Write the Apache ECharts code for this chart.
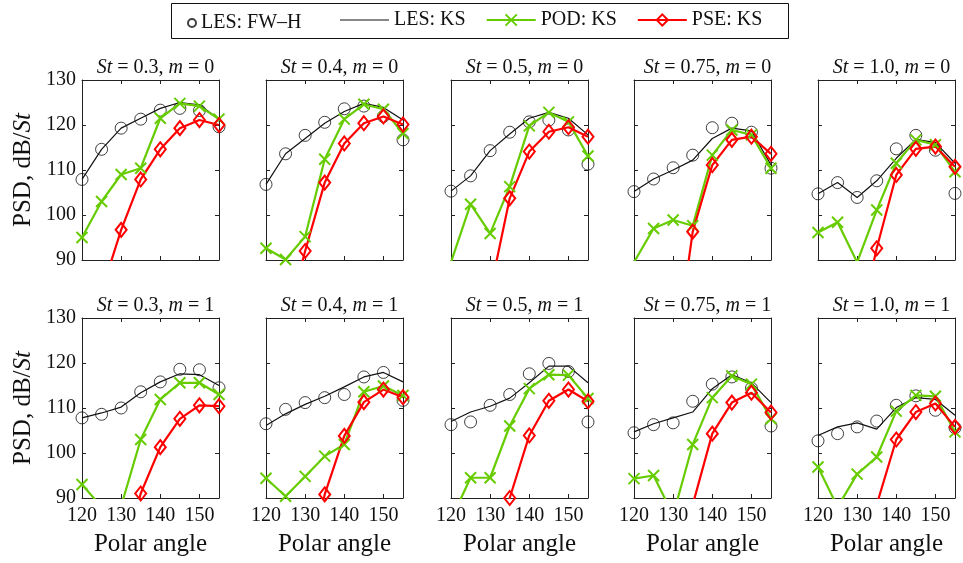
<!DOCTYPE html>
<html>
<head>
<meta charset="utf-8">
<script src="https://cdn.jsdelivr.net/npm/echarts@6/dist/echarts.min.js"></script>
<style>
  html, body { margin: 0; padding: 0; background: #ffffff; }
  #chart { width: 963px; height: 563px; }
</style>
</head>
<body>
<div id="chart"></div>
<script>
// polar angles (x)
const angles = [120, 125, 130, 135, 140, 145, 150, 155];
const stLabels = ['0.3', '0.4', '0.5', '0.75', '1.0'];
const modes = [0, 1];

// m = 0, one array per St
const fwhM0 = [
  [107.9, 114.6, 119.3, 121.3, 123.3, 123.7, 123.2, 119.6],
  [106.8, 113.6, 117.7, 120.6, 123.6, 124.2, 121.9, 116.7],
  [105.3, 108.7, 114.3, 118.4, 120.7, 121.1, 118.9, 111.3],
  [105.2, 108.0, 110.5, 113.3, 119.4, 120.4, 118.4, 110.4],
  [104.7, 107.2, 103.9, 107.6, 114.7, 117.7, 114.4, 104.8]
];
const lesM0 = [
  [107.9, 114.6, 119.3, 121.5, 123.7, 125.0, 124.5, 121.3],
  [106.8, 113.6, 117.0, 120.4, 123.0, 124.8, 123.9, 121.1],
  [105.3, 108.7, 114.3, 118.0, 121.5, 122.8, 121.5, 117.8],
  [105.2, 108.0, 110.0, 112.2, 117.0, 119.3, 118.7, 111.1],
  [104.7, 107.2, 103.9, 107.6, 112.6, 116.8, 116.1, 111.5]
];
const podM0 = [
  [95.0, 103.0, 109.0, 110.4, 121.5, 124.8, 124.2, 121.3],
  [92.6, 90.1, 95.2, 112.4, 121.3, 124.6, 123.5, 118.1],
  [89.5, 102.4, 95.9, 106.3, 119.8, 122.8, 120.7, 113.1],
  [89.5, 97.0, 98.9, 97.6, 113.3, 118.9, 117.8, 110.4],
  [96.1, 98.4, 89.5, 101.1, 111.5, 116.7, 115.6, 109.6]
];
const pseM0 = [
  [null, 83.0, 96.7, 107.9, 114.6, 119.3, 121.1, 120.0],
  [null, 75.0, 92.0, 107.2, 115.9, 120.4, 121.9, 120.1],
  [null, null, 83.0, 103.7, 114.1, 118.5, 119.5, 117.4],
  [null, null, 65.0, 96.3, 111.1, 116.7, 117.4, 113.6],
  [null, null, 73.0, 92.6, 108.9, 114.7, 115.2, 110.7]
];

// m = 1
const fwhM1 = [
  [107.8, 108.6, 110.0, 113.6, 115.8, 118.6, 118.5, 114.5],
  [106.5, 109.7, 111.2, 112.3, 113.0, 116.9, 117.9, 111.7],
  [106.3, 106.9, 110.6, 113.0, 117.6, 119.9, 118.1, 106.9],
  [104.5, 106.3, 106.7, 111.5, 115.3, 116.9, 114.4, 106.0],
  [102.7, 104.3, 105.8, 107.1, 110.6, 112.7, 109.5, 105.6]
];
const lesM1 = [
  [107.8, 108.9, 110.2, 113.4, 115.8, 117.6, 117.4, 115.0],
  [106.1, 108.7, 110.8, 112.6, 114.7, 116.9, 117.9, 115.8],
  [107.0, 109.1, 110.4, 112.2, 115.6, 119.3, 119.3, 115.6],
  [104.7, 106.5, 107.8, 109.1, 114.3, 117.4, 115.6, 111.2],
  [103.9, 105.8, 106.7, 105.3, 110.1, 112.3, 111.9, 108.4]
];
const podM1 = [
  [93.0, 88.0, 88.2, 103.0, 111.9, 115.6, 115.6, 113.0],
  [94.4, 90.4, 94.8, 99.3, 101.9, 113.6, 114.9, 112.8],
  [85.2, 94.5, 94.5, 106.0, 114.3, 117.4, 117.3, 112.1],
  [94.3, 95.0, 86.2, 101.9, 112.3, 117.1, 115.3, 107.6],
  [96.9, 88.0, 95.3, 99.1, 109.3, 112.8, 112.6, 104.7]
];
const pseM1 = [
  [null, null, 75.0, 91.0, 101.3, 107.6, 110.6, 110.4],
  [null, null, 70.0, 90.8, 103.8, 111.3, 114.1, 112.4],
  [null, null, 60.0, 90.0, 103.9, 111.6, 114.1, 111.5],
  [null, null, null, 88.5, 104.3, 111.2, 113.4, 109.0],
  [null, null, null, 88.5, 103.0, 109.1, 111.0, 105.8]
];

const fwh = [fwhM0, fwhM1];
const les = [lesM0, lesM1];
const pod = [podM0, podM1];
const pse = [pseM0, pseM1];

const serif = 'Liberation Serif';
const green = '#66cc00';
const red = '#ff0000';

const colLeft = [82, 266, 451, 634, 818];
const rowTop = [80, 318];
const panelW = 137;
const panelH = 180;

function pairs(ys) {
  return ys.map((y, i) => [angles[i], y]);
}

let chart = echarts.init(document.getElementById('chart'));

let grids = [], xAxes = [], yAxes = [], titles = [], series = [];

modes.forEach((m, r) => {
  stLabels.forEach((st, c) => {
    let g = r * 5 + c;
    grids.push({left: colLeft[c], top: rowTop[r], width: panelW, height: panelH});

    let tick = {show: true, inside: true, length: 4, lineStyle: {color: '#222'}};
    let line = {show: true, onZero: false, lineStyle: {color: '#222', width: 1}};
    // bottom / top x axes
    xAxes.push({
      type: 'value', gridIndex: g, position: 'bottom', min: 120, max: 155, interval: 10,
      axisLine: line, axisTick: tick, splitLine: {show: false},
      axisLabel: {
        show: r === 1, showMaxLabel: false, margin: 8,
        fontFamily: serif, fontSize: 20, color: '#111'
      },
      name: r === 1 ? 'Polar angle' : '', nameLocation: 'middle', nameGap: 34,
      nameTextStyle: {fontFamily: serif, fontSize: 25, color: '#111'}
    });
    xAxes.push({
      type: 'value', gridIndex: g, position: 'top', min: 120, max: 155, interval: 10,
      axisLine: line, axisTick: tick, axisLabel: {show: false}, splitLine: {show: false}
    });
    // left / right y axes
    yAxes.push({
      type: 'value', gridIndex: g, position: 'left', min: 90, max: 130, interval: 10,
      axisLine: line, axisTick: tick, splitLine: {show: false},
      axisLabel: {show: c === 0, margin: 6, fontFamily: serif, fontSize: 20, color: '#111'},
      name: c === 0 ? 'PSD, dB/{i|St}' : '', nameLocation: 'middle', nameGap: 46, nameRotate: 90,
      nameTextStyle: {
        fontFamily: serif, fontSize: 25, color: '#111',
        rich: {i: {fontFamily: serif, fontSize: 25, fontStyle: 'italic', color: '#111'}}
      }
    });
    yAxes.push({
      type: 'value', gridIndex: g, position: 'right', min: 90, max: 130, interval: 10,
      axisLine: line, axisTick: tick, axisLabel: {show: false}, splitLine: {show: false}
    });

    titles.push({
      text: '{i|St} = ' + st + ', {i|m} = ' + m,
      left: colLeft[c] + panelW / 2, textAlign: 'center', top: rowTop[r] - 27,
      textStyle: {
        fontFamily: serif, fontSize: 20, fontWeight: 'normal', color: '#111',
        rich: {
          i: {fontFamily: serif, fontSize: 20, fontStyle: 'italic', color: '#111'},
        }
      }
    });

    let xi = 2 * g, yi = 2 * g;
    series.push({
      name: 'LES: FW\u2013H', type: 'scatter', xAxisIndex: xi, yAxisIndex: yi,
      data: pairs(fwh[r][c]), symbol: 'circle', symbolSize: 12,
      itemStyle: {color: 'rgba(0,0,0,0)', borderColor: '#111', borderWidth: 1}
    });
    series.push({
      name: 'LES: KS', type: 'line', xAxisIndex: xi, yAxisIndex: yi,
      data: pairs(les[r][c]), symbol: 'none', color: '#111',
      lineStyle: {color: '#111', width: 1.2}
    });
    series.push({
      name: 'POD: KS', type: 'line', xAxisIndex: xi, yAxisIndex: yi,
      data: pairs(pod[r][c]), symbol: 'path://M0,0L10,10M0,10L10,0', symbolSize: 11,
      showAllSymbol: true, color: green,
      lineStyle: {color: green, width: 2.2},
      itemStyle: {color: green, borderColor: green, borderWidth: 2}
    });
    series.push({
      name: 'PSE: KS', type: 'line', xAxisIndex: xi, yAxisIndex: yi,
      data: pairs(pse[r][c]), symbol: 'diamond', symbolSize: [11, 14],
      showAllSymbol: true, color: red, connectNulls: false,
      lineStyle: {color: red, width: 2.2},
      itemStyle: {color: 'rgba(0,0,0,0)', borderColor: red, borderWidth: 2}
    });
  });
});

let option = {
  animation: false,
  backgroundColor: '#ffffff',
  title: titles,
  grid: grids,
  xAxis: xAxes,
  yAxis: yAxes,
  legend: [
    {
      data: [{name: 'LES: FW\u2013H', icon: 'circle'}],
      left: 182, top: 8, itemWidth: 8, itemHeight: 8, itemGap: 0,
      textStyle: {fontFamily: serif, fontSize: 20, color: '#111'}
    },
    {
      data: [
        {name: 'LES: KS', icon: 'path://M0,0L48,0L48,1.2L0,1.2Z'},
        'POD: KS',
        'PSE: KS'
      ],
      left: 335, top: 5, itemWidth: 49, itemHeight: 14, itemGap: 20,
      textStyle: {fontFamily: serif, fontSize: 20, color: '#111'}
    }
  ],
  graphic: [
    {
      type: 'rect', left: 169, top: 1,
      shape: {width: 617, height: 35},
      style: {fill: 'none', stroke: '#111', lineWidth: 1}
    }
  ],
  series: series
};

chart.setOption(option);
</script>
</body>
</html>
